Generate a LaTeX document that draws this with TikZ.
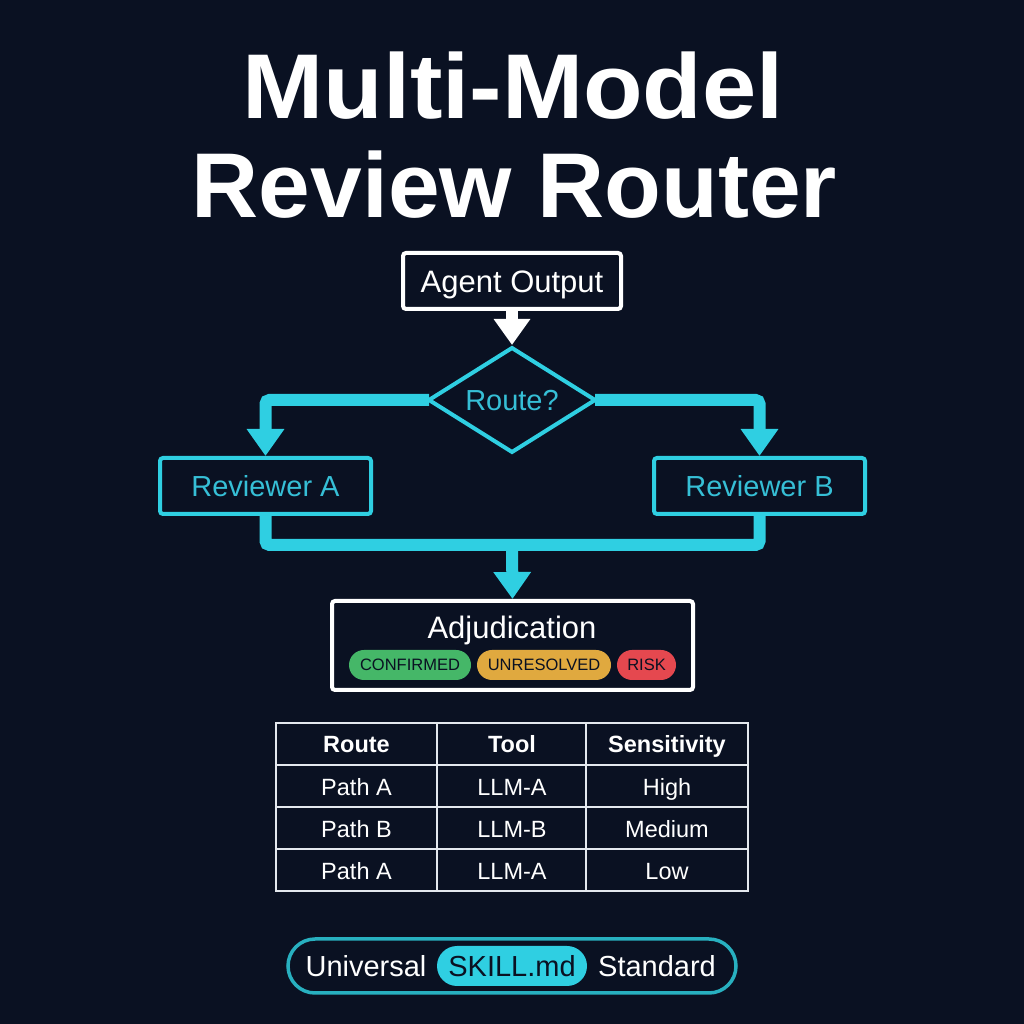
\documentclass[tikz,border=0pt]{standalone}
\usepackage{fontspec}
\setmainfont{Liberation Sans}
\usetikzlibrary{shapes.geometric,arrows.meta}
\definecolor{bg}{HTML}{0A1122}
\definecolor{cyn}{HTML}{2FCFE2}
\definecolor{cyntxt}{HTML}{36BFD6}
\definecolor{grn}{HTML}{45B768}
\definecolor{amb}{HTML}{E0A93F}
\definecolor{rdd}{HTML}{E5484F}
\definecolor{tline}{HTML}{E4E8EE}
\newcommand{\fs}[1]{\fontsize{#1}{#1}\selectfont}
\tikzset{
  capt/.style={text height=0.72*#1 pt,text depth=0pt,font=\fs{#1},inner sep=0pt},
  box/.style={draw=#1,line width=4pt,rounded corners=3pt,outer sep=2pt,inner sep=0pt,fill=bg},
  pill/.style={fill=#1,rounded corners=15pt,minimum height=30pt,inner sep=0pt,text=bg,text height=12pt,text depth=0pt,font=\fs{16.5}},
  cell/.style={text=white,capt=23.5},
  hcell/.style={text=white,inner sep=0pt,text height=17pt,text depth=0pt,font=\fs{23.5}\bfseries},
  flow/.style={draw=cyn,line width=12pt,rounded corners=4pt},
  tip/.style={-{Triangle[length=27pt,width=36pt]}},
  tabline/.style={draw=tline,line width=1.6pt},
  ttl/.style={text=white,inner sep=0pt,text height=66pt,text depth=0pt,font=\fs{92}\bfseries},
}
\begin{document}
\begin{tikzpicture}[x=1pt,y=1pt]
\useasboundingbox (0,0) rectangle (1024,1024);
\fill[bg] (0,0) rectangle (1024,1024);
% title
\node[ttl] (t1) at (513,938) {\scalebox{1.06}[1]{Multi-Model}};
\node[ttl] (t2) at (514.5,839.5) {\scalebox{1.01}[1]{Review Router}};
% nodes
\node[box=white,minimum width=218pt,minimum height=56pt,text=white,capt=31] (agent) at (512,743) {Agent Output};
\node[diamond,draw=cyn,line width=4pt,outer sep=0pt,minimum width=166pt,minimum height=104pt,aspect=1.6,fill=bg,text=cyntxt,capt=29] (route) at (512,624) {Route?};
\node[box=cyn,minimum width=211pt,minimum height=56pt,text=cyntxt,capt=29] (ra) at (265.5,538) {Reviewer A};
\node[box=cyn,minimum width=211pt,minimum height=56pt,text=cyntxt,capt=29] (rb) at (759.5,538) {Reviewer B};
\node[box=white,minimum width=361pt,minimum height=89pt] (adj) at (512.5,378.5) {};
\node[text=white,capt=31] (adjt) at (512,397) {Adjudication};
\node[pill=grn,minimum width=122pt] (p1) at (410,359) {CONFIRMED};
\node[pill=amb,minimum width=134pt] (p2) at (544,359) {UNRESOLVED};
\node[pill=rdd,minimum width=59pt] (p3) at (646.5,359) {RISK};
% connectors
\coordinate (merge) at (512,479);
\draw[draw=white,line width=12pt,shorten >=3pt,-{Triangle[length=26pt,width=35pt]}] (agent.south) -- (route.north);
\draw[flow,tip] (route.west) -| (ra.north);
\draw[flow,tip] (route.east) -| (rb.north);
\draw[flow] (ra.south) |- (merge) -| (rb.south);
\draw[flow,tip] (merge) -- (adj.north);
% table
\draw[tabline] (276,133) rectangle (748,301);
\draw[tabline] (437,133) -- (437,301);
\draw[tabline] (586,133) -- (586,301);
\draw[tabline,line width=2.6pt] (276,259) -- (748,259);
\draw[tabline] (276,217) -- (748,217);
\draw[tabline] (276,175) -- (748,175);
\node[hcell] (h1) at (356.5,280) {Route};
\node[hcell] (h2) at (512,280) {Tool};
\node[hcell] (h3) at (667,280) {Sensitivity};
\node[cell] (a1) at (356.5,237) {Path A};
\node[cell] (a2) at (512,237) {LLM-A};
\node[cell] (a3) at (667,237) {High};
\node[cell] (b1) at (356.5,195) {Path B};
\node[cell] (b2) at (512,195) {LLM-B};
\node[cell] (b3) at (667,195) {Medium};
\node[cell] (c1) at (356.5,153) {Path A};
\node[cell] (c2) at (512,153) {LLM-A};
\node[cell] (c3) at (667,153) {Low};
% footer
\node[draw=cyn!85!black,line width=3.5pt,rounded corners=27pt,minimum width=448pt,minimum height=54pt,inner sep=0pt] (foot) at (512,58) {};
\node[fill=cyn,rounded corners=20pt,minimum width=150pt,minimum height=40pt,text=bg,capt=29] (skill) at (512,58) {SKILL.md};
\node[text=white,capt=29] (uni) at (366,58) {Universal};
\node[text=white,capt=29] (std) at (657,58) {Standard};
\end{tikzpicture}
\end{document}
